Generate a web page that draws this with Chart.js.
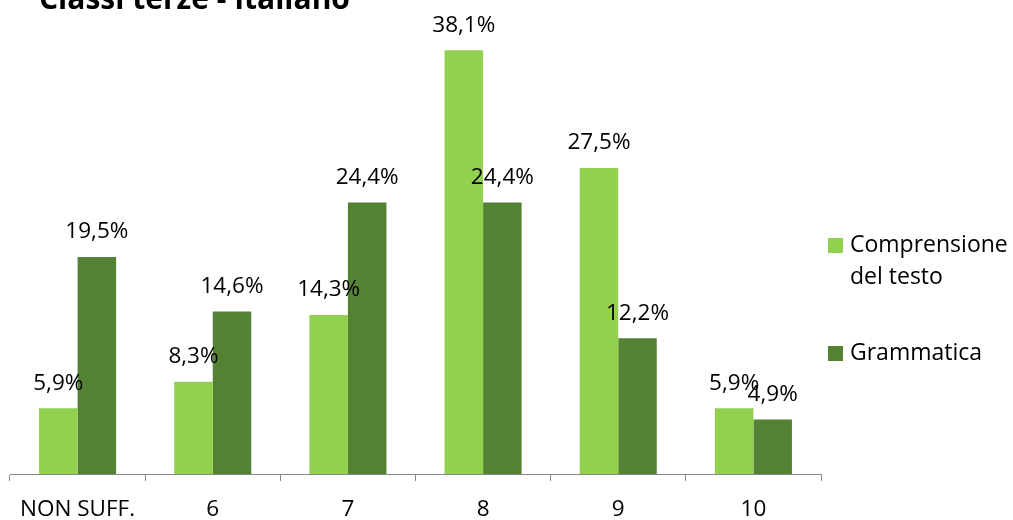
<!DOCTYPE html>
<html>
<head>
<meta charset="utf-8">
<script src="https://cdn.jsdelivr.net/npm/chart.js@4"></script>
<style>
html,body{margin:0;padding:0;background:#fff;}
#wrap{width:1013px;height:520px;position:relative;}
</style>
</head>
<body>
<div id="wrap"><canvas id="c" width="1013" height="520"></canvas></div>
<script>
const title = 'Classi terze - Italiano';
const categories = ['NON SUFF.', '6', '7', '8', '9', '10'];
const seriesNames = ['Comprensione del testo', 'Grammatica'];
const legendLines = [['Comprensione', 'del testo'], ['Grammatica']];
const comprensione = [5.9, 8.3, 14.3, 38.1, 27.5, 5.9];
const grammatica = [19.5, 14.6, 24.4, 24.4, 12.2, 4.9];
const colors = ['#92D050', '#548235'];

const FONT = "'Open Sans', 'Liberation Sans', sans-serif";

const labelPlugin = {
  id: 'labels',
  afterDatasetsDraw(chart) {
    const ctx = chart.ctx;
    ctx.save();
    ctx.font = '22.5px ' + FONT;
    ctx.fillStyle = '#000';
    ctx.textAlign = 'center';
    ctx.textBaseline = 'middle';
    chart.data.datasets.forEach((ds, i) => {
      chart.getDatasetMeta(i).data.forEach((bar, j) => {
        const v = ds.data[j];
        ctx.fillText(v.toFixed(1).replace('.', ',') + '%', bar.x, bar.y - 25);
      });
    });
    ctx.restore();
  }
};

const extrasPlugin = {
  id: 'extras',
  afterDraw(chart) {
    const ctx = chart.ctx;
    ctx.save();
    // title
    ctx.font = 'bold 30px ' + FONT;
    ctx.fillStyle = '#000';
    ctx.textAlign = 'left';
    ctx.textBaseline = 'alphabetic';
    ctx.fillText(title, 39, 9);
    // legend
    ctx.font = '23px ' + FONT;
    ctx.textBaseline = 'middle';
    const starts = [245, 353];
    legendLines.forEach((lines, i) => {
      const y = starts[i];
      ctx.fillStyle = colors[i];
      ctx.fillRect(828, y - 7, 15, 15);
      ctx.fillStyle = '#000';
      lines.forEach((t, k) => ctx.fillText(t, 850, y + k * 32));
    });
    ctx.restore();
  }
};

new Chart(document.getElementById('c'), {
  type: 'bar',
  data: {
    labels: categories,
    datasets: [
      { label: seriesNames[0], data: comprensione, backgroundColor: colors[0] },
      { label: seriesNames[1], data: grammatica, backgroundColor: colors[1] }
    ]
  },
  options: {
    responsive: false,
    animation: false,
    devicePixelRatio: 1,
    layout: { padding: { top: 29, left: 10, right: 192, bottom: 0 } },
    plugins: { legend: { display: false }, tooltip: { enabled: false }, title: { display: false } },
    datasets: { bar: { categoryPercentage: 0.57, barPercentage: 1.0 } },
    scales: {
      y: { display: false, min: 0, max: 40 },
      x: {
        afterFit(scale) { scale.height = 46; },
        grid: { offset: true, drawOnChartArea: false, drawTicks: true, tickLength: 7, color: '#888888' },
        border: { display: true, color: '#888888', width: 1 },
        ticks: { color: '#000', font: { family: FONT, size: 22.5 }, padding: 15, maxRotation: 0 }
      }
    }
  },
  plugins: [labelPlugin, extrasPlugin]
});
</script>
</body>
</html>
